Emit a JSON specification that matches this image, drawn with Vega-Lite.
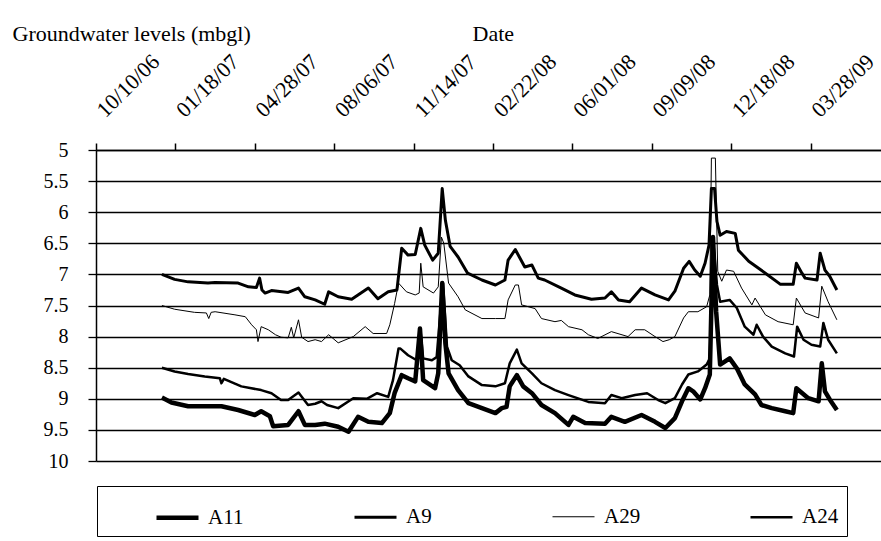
{
 "$schema": "https://vega.github.io/schema/vega-lite/v6.json",
 "width": 785, "height": 311,
 "autosize": {"type": "none"},
 "padding": {"left": 96, "top": 150, "right": 0, "bottom": 80},
 "background": "white",
 "config": {"font": "Liberation Serif, Times New Roman, DejaVu Serif, serif", "view": {"stroke": null},
  "axis": {"labelFont": "Liberation Serif, Times New Roman, DejaVu Serif, serif", "titleFont": "Liberation Serif, Times New Roman, DejaVu Serif, serif"},
  "legend": {"labelFont": "Liberation Serif, Times New Roman, DejaVu Serif, serif"}},
 "data": {"format": {"parse": {"d": "date:'%Y-%m-%d'"}}, "values": [
{"s":"A9","d":"2007-01-01","v":7.00},{"s":"A9","d":"2007-01-17","v":7.08},{"s":"A9","d":"2007-02-03","v":7.12},{"s":"A9","d":"2007-02-28","v":7.14},{"s":"A9","d":"2007-03-09","v":7.13},{"s":"A9","d":"2007-04-07","v":7.14},{"s":"A9","d":"2007-04-20","v":7.20},{"s":"A9","d":"2007-04-30","v":7.21},{"s":"A9","d":"2007-05-04","v":7.06},{"s":"A9","d":"2007-05-07","v":7.25},{"s":"A9","d":"2007-05-11","v":7.30},{"s":"A9","d":"2007-05-19","v":7.26},{"s":"A9","d":"2007-06-09","v":7.29},{"s":"A9","d":"2007-06-22","v":7.22},{"s":"A9","d":"2007-06-30","v":7.36},{"s":"A9","d":"2007-07-13","v":7.41},{"s":"A9","d":"2007-07-25","v":7.48},{"s":"A9","d":"2007-07-30","v":7.28},{"s":"A9","d":"2007-08-11","v":7.36},{"s":"A9","d":"2007-08-28","v":7.40},{"s":"A9","d":"2007-09-18","v":7.22},{"s":"A9","d":"2007-09-30","v":7.39},{"s":"A9","d":"2007-10-13","v":7.28},{"s":"A9","d":"2007-10-24","v":7.25},{"s":"A9","d":"2007-10-30","v":6.58},{"s":"A9","d":"2007-11-07","v":6.69},{"s":"A9","d":"2007-11-16","v":6.68},{"s":"A9","d":"2007-11-23","v":6.26},{"s":"A9","d":"2007-11-28","v":6.53},{"s":"A9","d":"2007-12-08","v":6.77},{"s":"A9","d":"2007-12-15","v":6.66},{"s":"A9","d":"2007-12-20","v":5.62},{"s":"A9","d":"2007-12-24","v":6.13},{"s":"A9","d":"2007-12-30","v":6.55},{"s":"A9","d":"2008-01-09","v":6.72},{"s":"A9","d":"2008-01-21","v":6.98},{"s":"A9","d":"2008-02-08","v":7.09},{"s":"A9","d":"2008-02-25","v":7.17},{"s":"A9","d":"2008-03-08","v":7.09},{"s":"A9","d":"2008-03-12","v":6.77},{"s":"A9","d":"2008-03-21","v":6.60},{"s":"A9","d":"2008-03-27","v":6.74},{"s":"A9","d":"2008-04-02","v":6.88},{"s":"A9","d":"2008-04-11","v":6.85},{"s":"A9","d":"2008-04-19","v":7.06},{"s":"A9","d":"2008-04-27","v":7.09},{"s":"A9","d":"2008-05-18","v":7.22},{"s":"A9","d":"2008-06-04","v":7.33},{"s":"A9","d":"2008-06-25","v":7.40},{"s":"A9","d":"2008-07-12","v":7.38},{"s":"A9","d":"2008-07-20","v":7.28},{"s":"A9","d":"2008-07-29","v":7.41},{"s":"A9","d":"2008-08-12","v":7.44},{"s":"A9","d":"2008-08-27","v":7.22},{"s":"A9","d":"2008-09-13","v":7.33},{"s":"A9","d":"2008-09-30","v":7.41},{"s":"A9","d":"2008-10-08","v":7.27},{"s":"A9","d":"2008-10-19","v":6.90},{"s":"A9","d":"2008-10-26","v":6.79},{"s":"A9","d":"2008-11-02","v":6.93},{"s":"A9","d":"2008-11-09","v":7.03},{"s":"A9","d":"2008-11-15","v":6.82},{"s":"A9","d":"2008-11-20","v":6.53},{"s":"A9","d":"2008-11-23","v":5.62},{"s":"A9","d":"2008-11-27","v":5.62},{"s":"A9","d":"2008-11-30","v":6.15},{"s":"A9","d":"2008-12-04","v":6.37},{"s":"A9","d":"2008-12-12","v":6.31},{"s":"A9","d":"2008-12-23","v":6.34},{"s":"A9","d":"2008-12-27","v":6.61},{"s":"A9","d":"2009-01-09","v":6.79},{"s":"A9","d":"2009-01-30","v":6.98},{"s":"A9","d":"2009-02-18","v":7.16},{"s":"A9","d":"2009-03-06","v":7.16},{"s":"A9","d":"2009-03-10","v":6.82},{"s":"A9","d":"2009-03-17","v":6.98},{"s":"A9","d":"2009-03-21","v":7.06},{"s":"A9","d":"2009-04-05","v":7.09},{"s":"A9","d":"2009-04-09","v":6.66},{"s":"A9","d":"2009-04-15","v":6.93},{"s":"A9","d":"2009-04-21","v":7.03},{"s":"A9","d":"2009-04-30","v":7.25},
{"s":"A29","d":"2007-01-01","v":7.50},{"s":"A29","d":"2007-01-17","v":7.56},{"s":"A29","d":"2007-02-11","v":7.61},{"s":"A29","d":"2007-02-26","v":7.62},{"s":"A29","d":"2007-03-01","v":7.71},{"s":"A29","d":"2007-03-04","v":7.61},{"s":"A29","d":"2007-03-09","v":7.60},{"s":"A29","d":"2007-04-03","v":7.65},{"s":"A29","d":"2007-04-16","v":7.68},{"s":"A29","d":"2007-04-24","v":7.81},{"s":"A29","d":"2007-04-30","v":7.89},{"s":"A29","d":"2007-05-02","v":8.08},{"s":"A29","d":"2007-05-06","v":7.84},{"s":"A29","d":"2007-05-15","v":7.89},{"s":"A29","d":"2007-05-24","v":7.97},{"s":"A29","d":"2007-05-31","v":8.01},{"s":"A29","d":"2007-06-09","v":8.02},{"s":"A29","d":"2007-06-13","v":7.85},{"s":"A29","d":"2007-06-16","v":8.02},{"s":"A29","d":"2007-06-22","v":7.73},{"s":"A29","d":"2007-06-26","v":8.01},{"s":"A29","d":"2007-07-04","v":8.08},{"s":"A29","d":"2007-07-13","v":8.05},{"s":"A29","d":"2007-07-21","v":8.08},{"s":"A29","d":"2007-07-30","v":7.97},{"s":"A29","d":"2007-08-11","v":8.10},{"s":"A29","d":"2007-08-30","v":8.00},{"s":"A29","d":"2007-09-14","v":7.84},{"s":"A29","d":"2007-09-24","v":7.95},{"s":"A29","d":"2007-10-11","v":7.95},{"s":"A29","d":"2007-10-15","v":7.81},{"s":"A29","d":"2007-10-21","v":7.47},{"s":"A29","d":"2007-10-26","v":7.14},{"s":"A29","d":"2007-11-05","v":7.28},{"s":"A29","d":"2007-11-16","v":7.33},{"s":"A29","d":"2007-11-21","v":7.30},{"s":"A29","d":"2007-11-23","v":6.82},{"s":"A29","d":"2007-11-26","v":7.20},{"s":"A29","d":"2007-12-09","v":7.30},{"s":"A29","d":"2007-12-15","v":7.20},{"s":"A29","d":"2007-12-19","v":6.40},{"s":"A29","d":"2007-12-22","v":6.50},{"s":"A29","d":"2007-12-28","v":7.14},{"s":"A29","d":"2008-01-09","v":7.36},{"s":"A29","d":"2008-01-18","v":7.57},{"s":"A29","d":"2008-02-08","v":7.71},{"s":"A29","d":"2008-02-25","v":7.71},{"s":"A29","d":"2008-03-08","v":7.71},{"s":"A29","d":"2008-03-12","v":7.41},{"s":"A29","d":"2008-03-21","v":7.17},{"s":"A29","d":"2008-03-25","v":7.17},{"s":"A29","d":"2008-03-29","v":7.49},{"s":"A29","d":"2008-04-15","v":7.55},{"s":"A29","d":"2008-04-23","v":7.71},{"s":"A29","d":"2008-05-10","v":7.76},{"s":"A29","d":"2008-05-18","v":7.74},{"s":"A29","d":"2008-05-27","v":7.84},{"s":"A29","d":"2008-06-13","v":7.89},{"s":"A29","d":"2008-06-21","v":7.97},{"s":"A29","d":"2008-07-03","v":8.03},{"s":"A29","d":"2008-07-20","v":7.92},{"s":"A29","d":"2008-08-10","v":8.00},{"s":"A29","d":"2008-08-19","v":7.89},{"s":"A29","d":"2008-08-31","v":7.89},{"s":"A29","d":"2008-09-13","v":8.00},{"s":"A29","d":"2008-09-23","v":8.08},{"s":"A29","d":"2008-10-01","v":8.05},{"s":"A29","d":"2008-10-08","v":8.00},{"s":"A29","d":"2008-10-19","v":7.70},{"s":"A29","d":"2008-10-25","v":7.60},{"s":"A29","d":"2008-11-06","v":7.60},{"s":"A29","d":"2008-11-17","v":7.52},{"s":"A29","d":"2008-11-21","v":7.33},{"s":"A29","d":"2008-11-23","v":5.13},{"s":"A29","d":"2008-11-28","v":5.13},{"s":"A29","d":"2008-12-01","v":6.95},{"s":"A29","d":"2008-12-06","v":7.11},{"s":"A29","d":"2008-12-12","v":6.93},{"s":"A29","d":"2008-12-21","v":6.95},{"s":"A29","d":"2008-12-31","v":7.22},{"s":"A29","d":"2009-01-13","v":7.49},{"s":"A29","d":"2009-01-17","v":7.38},{"s":"A29","d":"2009-01-30","v":7.65},{"s":"A29","d":"2009-02-15","v":7.76},{"s":"A29","d":"2009-03-06","v":7.81},{"s":"A29","d":"2009-03-10","v":7.38},{"s":"A29","d":"2009-03-21","v":7.62},{"s":"A29","d":"2009-04-07","v":7.70},{"s":"A29","d":"2009-04-11","v":7.19},{"s":"A29","d":"2009-04-19","v":7.44},{"s":"A29","d":"2009-04-30","v":7.73},
{"s":"A24","d":"2007-01-01","v":8.50},{"s":"A24","d":"2007-01-17","v":8.56},{"s":"A24","d":"2007-02-03","v":8.60},{"s":"A24","d":"2007-02-24","v":8.64},{"s":"A24","d":"2007-03-15","v":8.67},{"s":"A24","d":"2007-03-17","v":8.75},{"s":"A24","d":"2007-03-20","v":8.68},{"s":"A24","d":"2007-04-11","v":8.80},{"s":"A24","d":"2007-05-06","v":8.86},{"s":"A24","d":"2007-05-19","v":8.91},{"s":"A24","d":"2007-05-31","v":9.02},{"s":"A24","d":"2007-06-09","v":9.02},{"s":"A24","d":"2007-06-22","v":8.90},{"s":"A24","d":"2007-07-04","v":9.10},{"s":"A24","d":"2007-07-13","v":9.08},{"s":"A24","d":"2007-07-21","v":9.04},{"s":"A24","d":"2007-07-28","v":9.10},{"s":"A24","d":"2007-08-11","v":9.15},{"s":"A24","d":"2007-08-30","v":8.99},{"s":"A24","d":"2007-09-16","v":9.00},{"s":"A24","d":"2007-09-29","v":8.91},{"s":"A24","d":"2007-10-13","v":8.97},{"s":"A24","d":"2007-10-19","v":8.70},{"s":"A24","d":"2007-10-26","v":8.19},{"s":"A24","d":"2007-10-28","v":8.19},{"s":"A24","d":"2007-11-07","v":8.30},{"s":"A24","d":"2007-11-18","v":8.38},{"s":"A24","d":"2007-11-23","v":7.95},{"s":"A24","d":"2007-11-26","v":8.35},{"s":"A24","d":"2007-12-07","v":8.38},{"s":"A24","d":"2007-12-13","v":8.33},{"s":"A24","d":"2007-12-19","v":7.41},{"s":"A24","d":"2007-12-21","v":7.14},{"s":"A24","d":"2007-12-26","v":8.16},{"s":"A24","d":"2008-01-01","v":8.38},{"s":"A24","d":"2008-01-11","v":8.46},{"s":"A24","d":"2008-01-22","v":8.64},{"s":"A24","d":"2008-02-08","v":8.78},{"s":"A24","d":"2008-02-25","v":8.80},{"s":"A24","d":"2008-03-08","v":8.75},{"s":"A24","d":"2008-03-14","v":8.43},{"s":"A24","d":"2008-03-23","v":8.21},{"s":"A24","d":"2008-03-29","v":8.43},{"s":"A24","d":"2008-04-11","v":8.59},{"s":"A24","d":"2008-04-23","v":8.75},{"s":"A24","d":"2008-05-10","v":8.86},{"s":"A24","d":"2008-05-27","v":8.94},{"s":"A24","d":"2008-06-21","v":9.05},{"s":"A24","d":"2008-07-12","v":9.07},{"s":"A24","d":"2008-07-20","v":8.94},{"s":"A24","d":"2008-08-02","v":8.99},{"s":"A24","d":"2008-08-19","v":8.94},{"s":"A24","d":"2008-09-03","v":8.91},{"s":"A24","d":"2008-09-17","v":9.02},{"s":"A24","d":"2008-09-26","v":9.07},{"s":"A24","d":"2008-10-08","v":8.99},{"s":"A24","d":"2008-10-17","v":8.77},{"s":"A24","d":"2008-10-25","v":8.61},{"s":"A24","d":"2008-11-06","v":8.56},{"s":"A24","d":"2008-11-17","v":8.45},{"s":"A24","d":"2008-11-21","v":8.35},{"s":"A24","d":"2008-11-25","v":6.42},{"s":"A24","d":"2008-11-30","v":7.17},{"s":"A24","d":"2008-12-04","v":7.44},{"s":"A24","d":"2008-12-16","v":7.41},{"s":"A24","d":"2008-12-25","v":7.54},{"s":"A24","d":"2009-01-04","v":7.84},{"s":"A24","d":"2009-01-15","v":7.97},{"s":"A24","d":"2009-01-19","v":7.81},{"s":"A24","d":"2009-01-27","v":8.00},{"s":"A24","d":"2009-02-07","v":8.16},{"s":"A24","d":"2009-02-24","v":8.27},{"s":"A24","d":"2009-03-07","v":8.32},{"s":"A24","d":"2009-03-11","v":7.84},{"s":"A24","d":"2009-03-19","v":8.05},{"s":"A24","d":"2009-03-29","v":8.13},{"s":"A24","d":"2009-04-09","v":8.16},{"s":"A24","d":"2009-04-13","v":7.78},{"s":"A24","d":"2009-04-19","v":8.05},{"s":"A24","d":"2009-04-30","v":8.27},
{"s":"A11","d":"2007-01-01","v":8.98},{"s":"A11","d":"2007-01-13","v":9.06},{"s":"A11","d":"2007-02-03","v":9.12},{"s":"A11","d":"2007-02-24","v":9.12},{"s":"A11","d":"2007-03-17","v":9.12},{"s":"A11","d":"2007-04-07","v":9.18},{"s":"A11","d":"2007-04-28","v":9.26},{"s":"A11","d":"2007-05-06","v":9.20},{"s":"A11","d":"2007-05-17","v":9.28},{"s":"A11","d":"2007-05-21","v":9.44},{"s":"A11","d":"2007-06-09","v":9.42},{"s":"A11","d":"2007-06-22","v":9.20},{"s":"A11","d":"2007-06-30","v":9.42},{"s":"A11","d":"2007-07-13","v":9.42},{"s":"A11","d":"2007-07-25","v":9.40},{"s":"A11","d":"2007-08-11","v":9.45},{"s":"A11","d":"2007-08-24","v":9.53},{"s":"A11","d":"2007-09-05","v":9.29},{"s":"A11","d":"2007-09-18","v":9.37},{"s":"A11","d":"2007-10-05","v":9.39},{"s":"A11","d":"2007-10-15","v":9.23},{"s":"A11","d":"2007-10-21","v":8.91},{"s":"A11","d":"2007-10-30","v":8.62},{"s":"A11","d":"2007-11-07","v":8.67},{"s":"A11","d":"2007-11-16","v":8.72},{"s":"A11","d":"2007-11-22","v":7.87},{"s":"A11","d":"2007-11-26","v":8.70},{"s":"A11","d":"2007-12-11","v":8.83},{"s":"A11","d":"2007-12-15","v":8.59},{"s":"A11","d":"2007-12-20","v":7.14},{"s":"A11","d":"2007-12-24","v":8.11},{"s":"A11","d":"2007-12-28","v":8.59},{"s":"A11","d":"2008-01-09","v":8.86},{"s":"A11","d":"2008-01-22","v":9.07},{"s":"A11","d":"2008-02-08","v":9.15},{"s":"A11","d":"2008-02-25","v":9.23},{"s":"A11","d":"2008-03-04","v":9.15},{"s":"A11","d":"2008-03-10","v":9.13},{"s":"A11","d":"2008-03-14","v":8.80},{"s":"A11","d":"2008-03-23","v":8.62},{"s":"A11","d":"2008-03-31","v":8.80},{"s":"A11","d":"2008-04-11","v":8.91},{"s":"A11","d":"2008-04-23","v":9.10},{"s":"A11","d":"2008-05-10","v":9.23},{"s":"A11","d":"2008-05-27","v":9.42},{"s":"A11","d":"2008-06-02","v":9.29},{"s":"A11","d":"2008-06-17","v":9.39},{"s":"A11","d":"2008-07-12","v":9.40},{"s":"A11","d":"2008-07-20","v":9.29},{"s":"A11","d":"2008-08-06","v":9.37},{"s":"A11","d":"2008-08-27","v":9.26},{"s":"A11","d":"2008-09-13","v":9.37},{"s":"A11","d":"2008-09-26","v":9.47},{"s":"A11","d":"2008-10-08","v":9.31},{"s":"A11","d":"2008-10-17","v":9.04},{"s":"A11","d":"2008-10-25","v":8.83},{"s":"A11","d":"2008-10-31","v":8.88},{"s":"A11","d":"2008-11-09","v":9.01},{"s":"A11","d":"2008-11-15","v":8.83},{"s":"A11","d":"2008-11-21","v":8.61},{"s":"A11","d":"2008-11-25","v":6.40},{"s":"A11","d":"2008-11-29","v":7.60},{"s":"A11","d":"2008-12-04","v":8.45},{"s":"A11","d":"2008-12-16","v":8.35},{"s":"A11","d":"2008-12-25","v":8.51},{"s":"A11","d":"2009-01-04","v":8.77},{"s":"A11","d":"2009-01-17","v":8.93},{"s":"A11","d":"2009-01-25","v":9.10},{"s":"A11","d":"2009-02-07","v":9.15},{"s":"A11","d":"2009-02-24","v":9.20},{"s":"A11","d":"2009-03-06","v":9.23},{"s":"A11","d":"2009-03-10","v":8.83},{"s":"A11","d":"2009-03-25","v":8.99},{"s":"A11","d":"2009-04-07","v":9.04},{"s":"A11","d":"2009-04-11","v":8.43},{"s":"A11","d":"2009-04-15","v":8.88},{"s":"A11","d":"2009-04-21","v":9.01},{"s":"A11","d":"2009-04-30","v":9.18}
 ]},
 "mark": {"type": "line", "stroke": "black", "strokeJoin": "round", "clip": true},
 "encoding": {
  "x": {"field": "d", "type": "temporal",
   "scale": {"domain": [{"year": 2006, "month": 10, "date": 10}, {"year": 2009, "month": 6, "date": 24, "hours": 14}]},
   "axis": {"orient": "top", "title": "Date", "format": "%m/%d/%y",
    "values": [{"year": 2006, "month": 10, "date": 10}, {"year": 2007, "month": 1, "date": 18}, {"year": 2007, "month": 4, "date": 28}, {"year": 2007, "month": 8, "date": 6}, {"year": 2007, "month": 11, "date": 14}, {"year": 2008, "month": 2, "date": 22}, {"year": 2008, "month": 6, "date": 1}, {"year": 2008, "month": 9, "date": 9}, {"year": 2008, "month": 12, "date": 18}, {"year": 2009, "month": 3, "date": 28}],
    "labelAngle": -45, "labelAlign": "left", "labelBaseline": "alphabetic", "labelFontSize": 22, "labelPadding": 25, "labelOffset": 9,
    "labelColor": "black", "labelOverlap": false, "labelFlush": false,
    "tickSize": 7, "tickColor": "black", "tickWidth": 1.5, "domainColor": "black", "domainWidth": 1.5, "grid": false,
    "titleFontSize": 22, "titleFontWeight": "normal", "titleColor": "black", "titleX": 376, "titleY": -110, "titleAlign": "left", "titleBaseline": "alphabetic"}},
  "y": {"field": "v", "type": "quantitative",
   "scale": {"domain": [5, 10], "reverse": true, "nice": false, "zero": false},
   "axis": {"title": "Groundwater levels (mbgl)", "values": [5, 5.5, 6, 6.5, 7, 7.5, 8, 8.5, 9, 9.5, 10], "format": "~g",
    "grid": true, "gridColor": "black", "gridWidth": 1.3, "gridOpacity": 1,
    "domainColor": "black", "domainWidth": 1.5, "tickColor": "black", "tickSize": 8, "tickWidth": 1.3,
    "labelFontSize": 20, "labelPadding": 20, "labelColor": "black", "labelFlush": false, "labelOverlap": false,
    "titleAngle": 0, "titleX": -84, "titleY": -110, "titleAlign": "left", "titleBaseline": "alphabetic",
    "titleFontSize": 22, "titleFontWeight": "normal", "titleColor": "black"}},
  "strokeWidth": {"field": "s", "type": "nominal",
   "scale": {"type": "ordinal", "domain": ["A11", "A9", "A29", "A24"], "range": [4.5, 3, 1, 2.5]},
   "legend": {"title": null, "orient": "none", "legendX": 1, "legendY": 336, "direction": "horizontal", "columns": 4,
    "symbolType": "stroke", "symbolSize": 1764, "symbolStrokeColor": "black",
    "labelFontSize": 21, "labelColor": "black", "labelOffset": 7, "padding": 8,
    "strokeColor": "black", "fillColor": "white", "columnPadding": 58, "gridAlign": "all", "symbolOffset": 49}}
 }
}
